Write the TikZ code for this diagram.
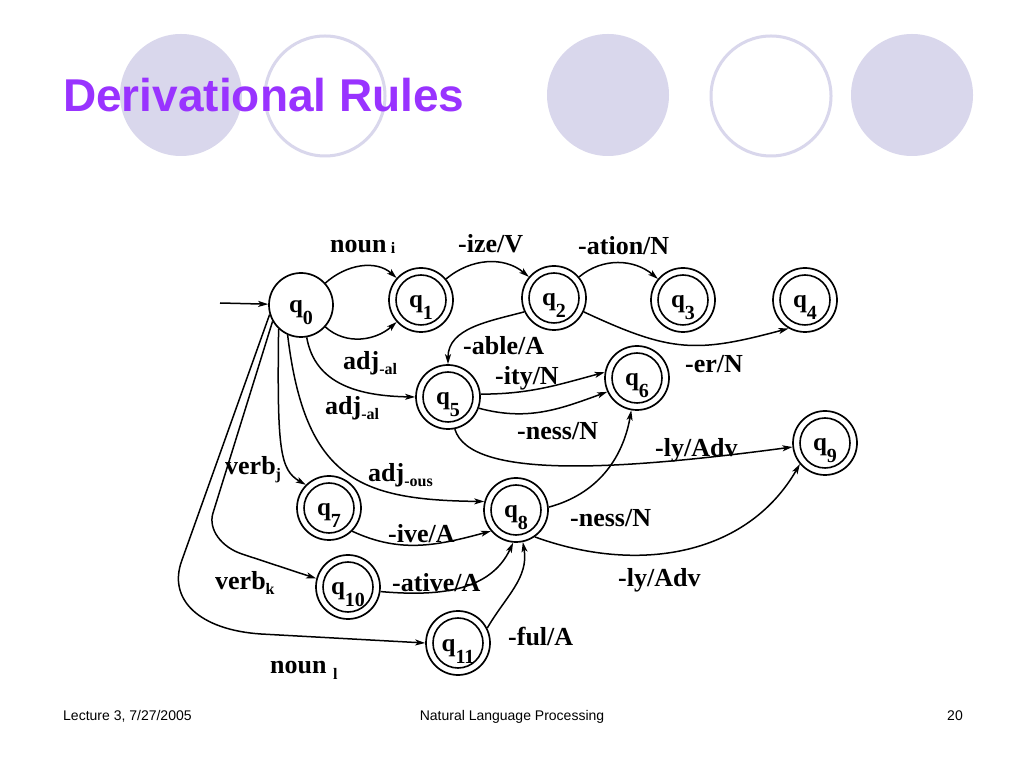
\documentclass[tikz,border=0pt]{standalone}
\usepackage{fontspec}
\setmainfont{Liberation Serif}
\newfontfamily\arialf{Liberation Sans}
\usetikzlibrary{arrows.meta}
\definecolor{titlepurple}{HTML}{9933FF}
\definecolor{lav}{HTML}{D9D7EC}
\newcommand\sbx[2][5pt]{\raisebox{-#1}{\fontsize{16}{16}\selectfont #2}}
\newcommand\qlab[1]{q\raisebox{-12pt}{\fontsize{20}{20}\selectfont #1}}
\begin{document}
\begin{tikzpicture}[x=1pt,y=1pt,
  stateA/.style={circle,draw,line width=1.7pt,minimum size=64pt,inner sep=0pt,
    text height=20pt,text depth=4pt,
    font=\fontsize{25}{25}\selectfont\bfseries},
  accept/.style={stateA,path picture={\draw[line width=1.6pt] (path picture bounding box.center) circle (25pt);}},
  edge/.style={line width=1.5pt,-{Stealth[length=10pt,width=6pt,inset=2.5pt]}},
  lab/.style={font=\fontsize{26}{26}\selectfont\bfseries,inner sep=0pt,anchor=base west},
  foot/.style={font=\arialf\fontsize{14}{14}\selectfont,inner sep=0pt,anchor=base}]
\useasboundingbox (0,0) rectangle (1024,768);
\fill[white] (0,0) rectangle (1024,768);
% decorative circles
\fill[lav] (181,768-95) circle (61);
\draw[lav,line width=3pt] (325,768-96) circle (60);
\fill[lav] (608,768-95) circle (61);
\draw[lav,line width=3pt] (771,768-96) circle (60);
\fill[lav] (912,768-95) circle (61);
% title
\node[inner sep=0pt,anchor=base west,text=titlepurple,font=\arialf\bfseries\fontsize{46}{46}\selectfont] (title) at (63,768-112) {Derivational Rules};
% states
\node[stateA] (q0) at (301,768-305) {\qlab{0}};
\node[accept] (q1) at (421,768-300) {\qlab{1}};
\node[accept] (q2) at (554,768-298) {\qlab{2}};
\node[accept] (q3) at (683,768-300) {\qlab{3}};
\node[accept] (q4) at (805,768-300) {\qlab{4}};
\node[accept] (q5) at (448,768-397) {\qlab{5}};
\node[accept] (q6) at (637,768-378) {\qlab{6}};
\node[accept] (q9) at (825,768-443) {\qlab{9}};
\node[accept] (q7) at (329,768-508) {\qlab{7}};
\node[accept] (q8) at (516,768-510) {\qlab{8}};
\node[accept] (q10) at (348,768-587) {\qlab{10}};
\node[accept] (q11) at (458,768-643) {\qlab{11}};
\coordinate (init) at (220,768-303);
% bend points of the two long connectors
\coordinate (ka) at (213,768-513);
\coordinate (kb) at (242,768-554);
\coordinate (na) at (182,768-560);
\coordinate (nb) at (261,768-634);
% labels
\node[lab] (l1) at (330,768-253) {noun\,\sbx[1pt]{i}};
\node[lab] (l2) at (458,768-253) {-ize/V};
\node[lab] (l3) at (578,768-255) {-ation/N};
\node[lab] (l4) at (463,768-355) {-able/A};
\node[lab] (l5) at (495,768-385) {-ity/N};
\node[lab] (l6) at (517,768-440) {-ness/N};
\node[lab] (l7) at (685,768-373) {-er/N};
\node[lab] (l8) at (655,768-457) {-ly/Adv};
\node[lab] (l9) at (343,768-370) {adj\sbx{-al}};
\node[lab] (l10) at (325,768-415) {adj\sbx{-al}};
\node[lab] (l11) at (225,768-475) {verb\sbx{j}};
\node[lab] (l12) at (368,768-482) {adj\sbx{-ous}};
\node[lab] (l13) at (388,768-543) {-ive/A};
\node[lab] (l14) at (570,768-527) {-ness/N};
\node[lab] (l15) at (215,768-590) {verb\sbx{k}};
\node[lab] (l16) at (392,768-592) {-ative/A};
\node[lab] (l17) at (618,768-587) {-ly/Adv};
\node[lab] (l18) at (508,768-645) {-ful/A};
\node[lab] (l19) at (270,768-673) {noun \sbx[6pt]{l}};
% edges
\draw[edge] (init) -- (q0);
\draw[edge] (q0) to[out=42,in=138] (q1);
\draw[edge] (q0) to[out=-42,in=-138] (q1);
\draw[edge] (q1) to[out=40,in=140] (q2);
\draw[edge] (q2) to[out=40,in=140] (q3);
\draw[edge] (q2.-25) to[out=-25,in=-165,looseness=1.2] (q4.-120);
\draw[edge] (q2.205) to[out=195,in=90] (q5);
\draw[edge] (q0.-80) .. controls (315,768-385) and (360,768-396) .. (q5.180);
\draw[edge] (q5.5) to[out=0,in=195] (q6.170);
\draw[edge] (q5.-20) to[out=-15,in=200] (q6.-155);
\draw[edge] (q5.-78) .. controls (470,768-480) and (620,768-470) .. (q9.187);
\draw[edge] (q8.5) to[out=15,in=-100] (q6);
\draw[edge] (q8.-55) to[out=-20,in=-120] (q9.-140);
\draw[edge] (q0.-114) .. controls (305,768-480) and (360,768-500) .. (q8.165);
\draw[edge] (q0.-133) .. controls (277,768-450) and (280,768-470) .. (q7.135);
\draw[edge] (q0.-150) -- (ka) .. controls (208,768-529) and (221,768-547) .. (kb) -- (q10.165);
\draw[edge] (q0.-163) -- (na) .. controls (167,768-600) and (200,768-630) .. (nb) -- (q11.180);
\draw[edge] (q7.-45) to[out=-25,in=195] (q8.-140);
\draw[edge] (q10.-8) to[out=-5,in=-115] (q8.-95);
\draw[edge] (q11.27) to[out=60,in=-80] (q8.-78);
% footer
\node[foot,anchor=base west] (f1) at (63,768-720) {Lecture 3, 7/27/2005};
\node[foot] (f2) at (512,768-720) {Natural Language Processing};
\node[foot] (f3) at (955,768-720) {20};
\end{tikzpicture}
\end{document}
